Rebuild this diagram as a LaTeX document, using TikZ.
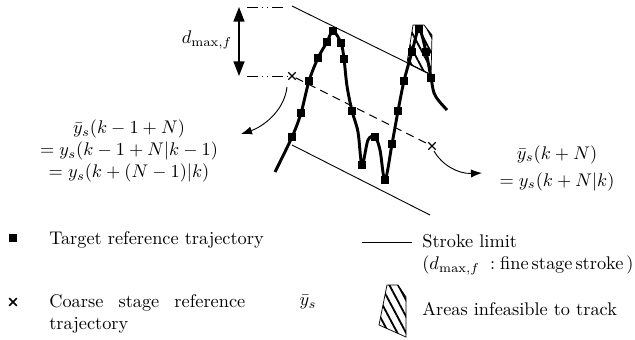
\documentclass[tikz,border=0pt]{standalone}
\usepackage{amsmath}
\usetikzlibrary{arrows.meta, positioning, shapes.misc, patterns.meta}
\tikzset{
  limit/.style={line width=0.5pt},
  traj/.style={line width=1.6pt, line join=round},
  refmark/.style={rectangle, fill=black, minimum size=4.4pt, inner sep=0pt},
  coarsemark/.style={cross out, draw, line width=0.6pt, minimum size=3.4pt, inner sep=0pt},
  dashdot/.style={line width=0.5pt, dash pattern=on 6pt off 2pt on 0.8pt off 2pt on 0.8pt off 2pt},
  coarseline/.style={line width=0.5pt, dash pattern=on 4.5pt off 3pt},
  hatch/.style={draw, line width=0.4pt, pattern={Lines[angle=-62,distance=4.2pt,line width=1pt]}},
  arrow/.style={-{Latex[length=6pt,width=4.5pt]}, line width=0.5pt},
  dblarrow/.style={{Triangle[length=8pt,width=6pt]}-{Triangle[length=8pt,width=6pt]}, line width=0.8pt},
  legtext/.style={align=left, anchor=west, inner sep=0pt}
}

\begin{document}
\begin{tikzpicture}[x=0.0192cm, y=-0.0192cm]
  \useasboundingbox (0,0) rectangle (635,339);

  % stroke band
  \coordinate (topL) at (247,7);
  \coordinate (topR) at (284,7);
  \coordinate (botL) at (247,76);
  \coordinate (upS) at (292,6);
  \coordinate (upE) at (428,73);
  \coordinate (loS) at (292,145);
  \coordinate (loE) at (430,215);
  \node[coarsemark] (crossA) at (292,76) {};
  \node[coarsemark] (crossB) at (432,146) {};

  \draw[dashdot] (topL) -- (topR);
  \draw[dashdot] (botL) -- (crossA.west);
  \draw[dblarrow] (239,7) coordinate (dtop) -- (239,76) coordinate (dbot);
  \node (dmax) at (207,40) {$d_{\max,f}$};
  \draw[limit] (upS) -- (upE);
  \draw[limit] (loS) -- (loE);
  \draw[coarseline] (crossA) -- (crossB);

  % infeasible area
  \draw[hatch] (413,25) -- (424,25) -- (432,35) -- (431,75) -- (407,63) -- cycle;

  % target trajectory
  \draw[traj] plot[smooth, tension=0.55] coordinates {
    (275,172) (292,137) (301,113) (309,81) (318,58) (327,42) (333,31)
    (341,43) (344,59) (347,86) (352,111) (358,132) (362,165) (368,140)
    (375,137) (380,150) (385,180) (392,144) (398,111) (404,81) (412,52)
    (419,29) (426,52) (431,78) (434,93) (439,101) (447,110)};
  \foreach \p [count=\i] in {(292,137),(301,113),(309,81),(318,58),(327,42),
      (333,31),(341,43),(344,59),(352,111),(362,165),(375,137),(385,180),
      (392,144),(398,111),(404,81),(412,52),(419,29),(426,52),(431,78)}
    \node[refmark] (m\i) at \p {};

  % labels
  \node[align=center] (prevlbl) at (129,151)
    {$\bar{y}_s(k-1+N)$\\ $=y_s(k-1+N|k-1)$\\ $=y_s(k+(N-1)|k)$};
  \node[align=center] (nextlbl) at (557,168)
    {$\bar{y}_s(k+N)$\\[2.8pt] $=y_s(k+N|k)$};
  \coordinate (a1s) at (287,87);
  \coordinate (a1e) at (241,134);
  \coordinate (a2s) at (434,151);
  \coordinate (a2e) at (482,173);
  \draw[arrow] (a1s) .. controls (284,112) and (262,127) .. (a1e);
  \draw[arrow] (a2s) .. controls (442,165) and (458,174) .. (a2e);

  % legend
  \node[refmark] (legsq) at (13,238) {};
  \node[legtext] (legsqtxt) at (49,240) {Target reference trajectory};
  \node[coarsemark, line width=0.8pt] (legx) at (13,302) {};
  \node[legtext, text width=107pt, align=justify, anchor=north west] (legxtxt) at (49,294)
    {Coarse stage reference trajectory};
  \node (legybar) at (308,302) {$\bar{y}_s$};
  \coordinate (legl1) at (362,242);
  \coordinate (legl2) at (412,242);
  \draw[limit] (legl1) -- (legl2);
  \node[legtext, anchor=north west] (leglimtxt) at (422,234)
    {Stroke limit\\ $(d_{\max,f}\;:\mathrm{fine\,stage\,stroke}\,)$};
  \draw[hatch] (387,285) -- (398,285) -- (406,297) -- (406,337) -- (379,325) -- cycle;
  \node[legtext] (leghatchtxt) at (422,309) {Areas infeasible to track};
\end{tikzpicture}
\end{document}
